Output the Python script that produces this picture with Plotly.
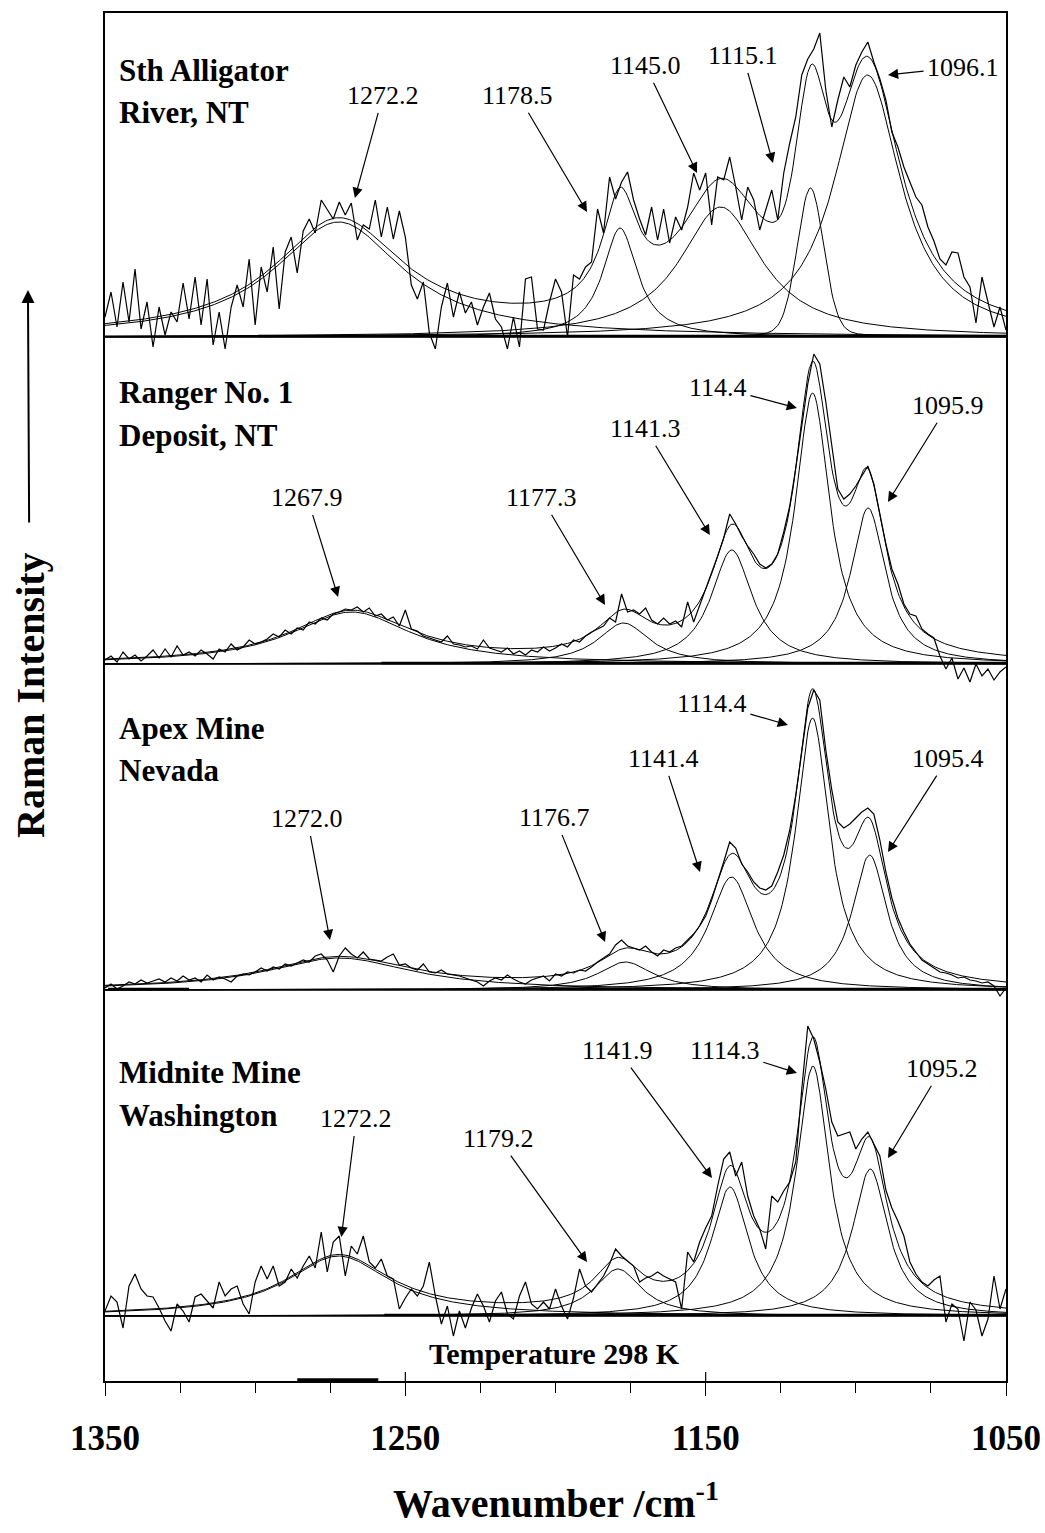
import numpy as np
import plotly.graph_objects as go

# ------------------------------------------------------------------ data
# wavenumber grid of the measured spectra (cm-1), 1350 -> 1050, every 2 cm-1
wavenumber = np.arange(1350, 1049, -2)

spectrum_alligator = [
    20, 45, 10, 55, 15, 68, 8, 35, -10, 30,
    2, 25, 15, 54, 18, 60, 12, 58, -8, 25,
    -12, 30, 52, 30, 78, 12, 70, 45, 90, 28,
    85, 100, 64, 106, 118, 104, 137, 128, 118, 135,
    122, 134, 97, 112, 108, 137, 100, 130, 98, 126,
    100, 52, 38, 55, 4, -12, 30, 54, 20, 45,
    24, 35, 12, 30, 44, 18, 10, -12, 20, -10,
    58, 60, 8, 7, 35, 58, 45, 0, 62, 58,
    70, 75, 128, 104, 160, 138, 155, 165, 137, 118,
    102, 130, 97, 128, 94, 120, 107, 130, 164, 147,
    164, 112, 160, 157, 180, 150, 117, 150, 137, 107,
    128, 147, 117, 164, 194, 220, 262, 278, 288, 304,
    247, 210, 237, 260, 250, 272, 285, 295, 275, 258,
    237, 205, 190, 170, 155, 140, 132, 110, 96, 78,
    72, 85, 84, 60, 50, 14, 60, 35, 10, 30,
    7]
spectrum_ranger = [
    4, 8, 2, 12, 5, 9, 3, 8, 14, 6,
    15, 7, 18, 9, 12, 8, 14, 10, 5, 15,
    12, 20, 14, 17, 24, 20, 22, 25, 30, 27,
    34, 30, 36, 34, 42, 40, 46, 44, 50, 52,
    55, 54, 57, 52, 56, 48, 50, 44, 47, 38,
    54, 35, 33, 28, 26, 24, 22, 28, 20, 19,
    17, 18, 15, 24, 16, 14, 12, 16, 10, 13,
    9, 14, 12, 17, 13, 16, 20, 17, 24, 22,
    28, 32, 35, 38, 46, 42, 70, 52, 54, 50,
    56, 44, 40, 46, 40, 43, 37, 62, 42, 58,
    74, 90, 108, 126, 150, 140, 128, 118, 110, 100,
    96, 100, 110, 132, 158, 196, 240, 280, 310, 300,
    262, 218, 175, 165, 170, 178, 188, 198, 180, 150,
    120, 95, 80, 60, 50, 48, 35, 30, 26, 8,
    -5, 6, -15, -4, -18, 0, -12, -5, -16, -8,
    -3]
spectrum_apex = [
    2, 6, 1, 4, 8, 6, 10, 7, 9, 11,
    8, 12, 9, 14, 10, 12, 8, 15, 10, 13,
    11, 8, 14, 16, 15, 18, 22, 19, 23, 21,
    26, 24, 27, 30, 28, 34, 36, 30, 18, 34,
    42, 36, 32, 38, 31, 30, 29, 33, 36, 25,
    26, 22, 20, 26, 18, 17, 20, 16, 15, 14,
    12, 10, 8, 4, 9, 12, 10, 15, 11, 8,
    6, 10, 12, 14, 9, 16, 14, 18, 17, 20,
    19, 23, 28, 32, 36, 45, 50, 44, 42, 40,
    44, 38, 34, 40, 38, 42, 44, 50, 56, 64,
    74, 90, 108, 128, 148, 142, 126, 118, 108, 102,
    100, 104, 118, 135, 160, 195, 238, 282, 300, 290,
    240, 200, 168, 162, 166, 172, 178, 182, 176, 150,
    118, 92, 72, 58, 46, 38, 30, 26, 22, 18,
    17, 15, 12, 13, 10, 9, 7, 8, 4, -6,
    2]
spectrum_midnite = [
    5, 20, 14, -12, 30, 42, 27, 20, 19, 8,
    -5, -15, 12, 5, -6, 19, 22, 15, 8, 34,
    20, 27, 30, 12, 2, 34, 50, 37, 50, 30,
    34, 47, 38, 50, 60, 48, 84, 44, 74, 80,
    40, 70, 62, 80, 54, 48, 57, 40, 37, 7,
    18, 27, 20, 30, 54, 20, -8, 10, -20, 5,
    -12, 8, 22, 10, -6, 15, 24, 2, -3, 20,
    34, 12, 7, 14, 7, 27, 10, -3, 18, 47,
    30, 24, 32, 40, 52, 67, 60, 55, 50, 34,
    38, 40, 44, 40, 37, 34, 7, 64, 54, 74,
    88, 100, 130, 157, 164, 140, 154, 120, 100, 87,
    67, 120, 114, 125, 134, 154, 227, 290, 277, 254,
    227, 194, 180, 182, 184, 167, 177, 184, 172, 160,
    126, 108, 95, 80, 54, 42, 34, 30, 36, 40,
    -6, 12, 7, -25, 14, 6, -20, -3, 40, 7,
    27]

# fitted band parameters (centre cm-1, height, FWHM cm-1, Lorentzian fraction)
centre_alligator = [1272.2, 1178.5, 1145.0, 1115.1, 1096.1]
height_alligator = [115, 109, 130, 149, 262]
fwhm_alligator = [52, 14, 33, 10.5, 27]
lorentz_alligator = [1.0, 1.0, 1.0, 0.2, 1.0]

centre_ranger = [1267.9, 1177.3, 1141.3, 1114.4, 1095.9]
height_ranger = [52, 41, 114, 271, 156]
fwhm_ranger = [49, 21, 16.7, 14, 14]
lorentz_ranger = [1.0, 1.0, 1.0, 1.0, 1.0]

centre_apex = [1272.0, 1176.7, 1141.4, 1114.4, 1095.4]
height_apex = [32, 28, 113, 272, 135]
fwhm_apex = [59, 22, 18, 13.7, 14]
lorentz_apex = [1.0, 1.0, 1.0, 1.0, 1.0]

centre_midnite = [1272.2, 1179.2, 1141.9, 1114.3, 1095.2]
height_midnite = [60, 47, 129, 250, 147]
fwhm_midnite = [42, 19, 15, 13.3, 14.4]
lorentz_midnite = [1.0, 1.0, 1.0, 1.0, 1.0]

# peak labels as printed
labels_alligator = ["1272.2", "1178.5", "1145.0", "1115.1", "1096.1"]
labels_ranger = ["1267.9", "1177.3", "1141.3", "114.4", "1095.9"]
labels_apex = ["1272.0", "1176.7", "1141.4", "1114.4", "1095.4"]
labels_midnite = ["1272.2", "1179.2", "1141.9", "1114.3", "1095.2"]

sample_names = [("Sth Alligator", "River, NT"),
                ("Ranger No. 1", "Deposit, NT"),
                ("Apex Mine", "Nevada"),
                ("Midnite Mine", "Washington")]

x_ticks = [1350, 1250, 1150, 1050]
x_minor_ticks = [1325, 1300, 1275, 1225, 1200, 1175, 1125, 1100, 1075]

# ------------------------------------------------------------------ layout constants
SERIF = "Liberation Serif, Times New Roman, serif"
panel_offset = [1044, 717, 391, 65]   # vertical offset of each stacked panel
Y_RANGE = [0, 1368]

# label placement per panel: (text_w, text_h, tip_w, tip_h), heights above panel zero
label_place = [
    [(1257.4, 242, 1266.8, 139),
     (1212.5, 242, 1189.5, 125),
     (1170.2, 272, 1152.9, 164),
     (1137.6, 282, 1127.6, 174),
     (1064.3, 270, 1089.3, 262)],
    [(1282.7, 167, 1272.4, 67),
     (1204.8, 167, 1183.5, 59),
     (1170.2, 236, 1148.6, 129),
     (1145.9, 277, 1119.6, 256),
     (1069.3, 259, 1089.3, 162)],
    [(1282.7, 172, 1275.1, 50),
     (1200.2, 173, 1183.5, 48),
     (1164.2, 232, 1151.9, 118),
     (1147.9, 287, 1122.6, 265),
     (1069.3, 232, 1089.3, 138)],
    [(1266.3, 198, 1271.3, 79),
     (1219.1, 178, 1189.5, 54),
     (1179.2, 266, 1147.9, 138),
     (1143.6, 266, 1119.6, 243),
     (1071.3, 248, 1089.3, 158)],
]
name_place = [(267, 225), (272, 229), (262, 220), (244, 201)]
thick_base = [[(1299, 1050)], [(1258, 1050)], [(1349, 1322), (1205, 1050)], [(1257, 1050)]]

spectra = [spectrum_alligator, spectrum_ranger, spectrum_apex, spectrum_midnite]
centres = [centre_alligator, centre_ranger, centre_apex, centre_midnite]
heights = [height_alligator, height_ranger, height_apex, height_midnite]
fwhms = [fwhm_alligator, fwhm_ranger, fwhm_apex, fwhm_midnite]
lfracs = [lorentz_alligator, lorentz_ranger, lorentz_apex, lorentz_midnite]
peak_labels = [labels_alligator, labels_ranger, labels_apex, labels_midnite]

for s in spectra:
    assert len(s) == len(wavenumber), len(s)

fine = np.arange(1350, 1049.9, -0.5)


def band(w, c, h, f, eta):
    lor = 1.0 / (1.0 + (2.0 * (w - c) / f) ** 2)
    gau = np.exp(-4.0 * np.log(2.0) * ((w - c) / f) ** 2)
    return h * (eta * lor + (1 - eta) * gau)


fig = go.Figure()
shapes = []
annotations = []

for p in range(4):
    off = panel_offset[p]
    total = np.zeros_like(fine)
    for c, h, f, eta in zip(centres[p], heights[p], fwhms[p], lfracs[p]):
        comp = band(fine, c, h, f, eta)
        total += comp
        fig.add_trace(go.Scatter(x=fine, y=comp + off, mode="lines",
                                 line=dict(color="black", width=1), hoverinfo="skip"))
    fig.add_trace(go.Scatter(x=fine, y=total + off, mode="lines",
                             line=dict(color="black", width=1), hoverinfo="skip"))
    fig.add_trace(go.Scatter(x=wavenumber, y=np.array(spectra[p]) + off, mode="lines",
                             line=dict(color="black", width=1.2), hoverinfo="skip"))

    # panel zero line / separator
    shapes.append(dict(type="line", xref="paper", yref="y", x0=0, x1=1, y0=off, y1=off,
                       line=dict(color="black", width=1.3)))
    for (a, b) in thick_base[p]:
        shapes.append(dict(type="line", xref="x", yref="y", x0=a, x1=b, y0=off + 1, y1=off + 1,
                           line=dict(color="black", width=2.5)))

    # sample name
    for line_txt, hh in zip(sample_names[p], name_place[p]):
        annotations.append(dict(x=1346, y=off + hh, xref="x", yref="y", text="<b>%s</b>" % line_txt,
                                showarrow=False, xanchor="left", yanchor="middle",
                                font=dict(family=SERIF, size=31, color="black")))

    # peak labels with arrows
    for lab, (tw, th, pw, ph) in zip(peak_labels[p], label_place[p]):
        annotations.append(dict(x=pw, y=off + ph, xref="x", yref="y", axref="x", ayref="y",
                                ax=tw, ay=off + th, text=lab, showarrow=True, arrowhead=2,
                                arrowsize=1.7, arrowwidth=1.2, arrowcolor="black",
                                standoff=0, startstandoff=2,
                                font=dict(family=SERIF, size=26, color="black")))

# temperature note
annotations.append(dict(x=1200.2, y=28, xref="x", yref="y", text="<b>Temperature 298 K</b>",
                        showarrow=False, xanchor="center", yanchor="middle",
                        font=dict(family=SERIF, size=30, color="black")))
# y title with its upward arrow
annotations.append(dict(x=-0.0855, y=0.7975, xref="paper", yref="paper",
                        ax=2, ay=405, text="<b>Raman Intensity</b>", textangle=-90,
                        showarrow=True, arrowhead=2, arrowsize=1.3, arrowwidth=2,
                        arrowcolor="black", standoff=0, startstandoff=28,
                        font=dict(family=SERIF, size=40, color="black")))
# x title
annotations.append(dict(x=0.5005, y=-0.087, xref="paper", yref="paper",
                        text="<b>Wavenumber /cm<sup>-1</sup></b>", showarrow=False,
                        xanchor="center", yanchor="middle",
                        font=dict(family=SERIF, size=40, color="black")))

# upward parts of the labelled ticks and a short thick stroke on the axis
for t in [1250, 1150]:
    shapes.append(dict(type="line", xref="x", yref="y", x0=t, x1=t, y0=0, y1=9,
                       line=dict(color="black", width=1.2)))
shapes.append(dict(type="line", xref="x", yref="y", x0=1286, x1=1259, y0=1.2, y1=1.2,
                   line=dict(color="black", width=3)))

fig.update_layout(
    width=1045, height=1533,
    margin=dict(l=105, r=39, t=13, b=152, autoexpand=False),
    plot_bgcolor="white", paper_bgcolor="white",
    showlegend=False,
    shapes=shapes, annotations=annotations,
    xaxis=dict(range=[1350, 1050], showgrid=False, zeroline=False, automargin=False,
               showline=True, linecolor="black", linewidth=1.5, mirror=True,
               ticks="outside", tickvals=x_ticks, ticktext=[str(t) for t in x_ticks],
               ticklen=13, tickwidth=1.2, tickcolor="black",
               ticklabelstandoff=12,
               tickfont=dict(family=SERIF, size=35, color="black", weight="bold"),
               minor=dict(tickvals=x_minor_ticks, ticks="outside", ticklen=10,
                          tickwidth=1.2, tickcolor="black", showgrid=False)),
    yaxis=dict(range=Y_RANGE, showgrid=False, zeroline=False, showticklabels=False,
               automargin=False,
               showline=True, linecolor="black", linewidth=1.8, mirror=True, ticks=""),
)

fig.write_html("out.html")
